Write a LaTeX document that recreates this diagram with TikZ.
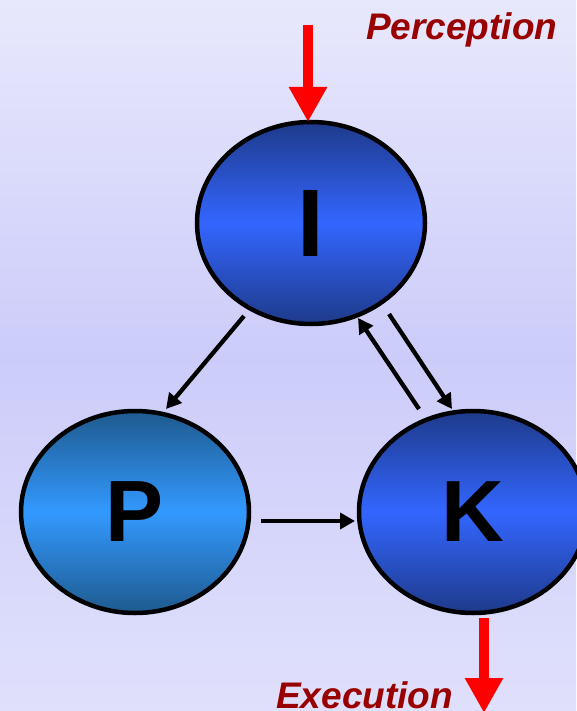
\documentclass[tikz,border=0pt]{standalone}
\usepackage{fontspec}
\setmainfont{Liberation Sans}
\usetikzlibrary{shapes.geometric,arrows.meta,calc}

\definecolor{bgtop}{HTML}{E8E8FC}
\definecolor{bgmid}{HTML}{CCCCFA}
\definecolor{bgbot}{HTML}{E0E0FC}
\definecolor{navy}{HTML}{1E3A8A}
\definecolor{royal}{HTML}{3366FF}
\definecolor{steel}{HTML}{1E5A8E}
\definecolor{azure}{HTML}{3399FF}
\definecolor{labelred}{HTML}{990000}
\definecolor{flowred}{HTML}{FF0000}

\tikzset{
  agent/.style={ellipse, draw=black, line width=4.5pt, inner sep=0pt, outer sep=0pt,
    minimum width=228pt, minimum height=202pt, font=\bfseries},
  blueagent/.style={agent, top color=navy, bottom color=navy, middle color=royal},
  tealagent/.style={agent, top color=steel, bottom color=steel, middle color=azure},
  link/.style={line width=4.3pt, -{Triangle[length=15pt,width=16pt]}},
  flow/.style={draw=flowred, line width=10pt, -{Triangle[length=35pt,width=36pt]}},
  flowlabel/.style={text=labelred, font=\bfseries\itshape\fontsize{37}{40}\selectfont,
    inner sep=0pt}
}

\begin{document}
\begin{tikzpicture}[x=1pt,y=-1pt]
  % canvas with soft vertical gradient
  \shade[top color=bgtop, bottom color=bgbot, middle color=bgmid]
    (0,0) rectangle (576,711);
  \useasboundingbox (0,0) rectangle (576,711);

  % the three agents
  \node[blueagent, font=\bfseries\fontsize{96}{100}\selectfont] (I) at (311,223) {I};
  \node[tealagent, font=\bfseries\fontsize{87}{90}\selectfont] (P) at (135,512) {P};
  \node[blueagent, font=\bfseries\fontsize{87}{90}\selectfont] (K) at (473,512) {K};

  % internal links
  \draw[link] ($(I.center)+(-67,93)$) -- ($(P.center)+(31,-103)$);
  \draw[link] ($(K.center)+(-54,-103)$) -- ($(I.center)+(47,95)$);
  \draw[link] ($(I.center)+(78,91)$) -- ($(K.center)+(-21,-103)$);
  \draw[link] ($(P.center)+(126,9)$) -- ($(K.center)+(-118,9)$);

  % input and output flows
  \coordinate (pin) at (308,25);
  \coordinate (pout) at (484,713);
  \draw[flow] (pin) -- (pin |- I.north);
  \draw[flow] ($(pout |- K.south)+(0,5)$) -- (pout);

  \node[flowlabel, anchor=base west] (perc) at (366,40) {Perception};
  \node[flowlabel, anchor=base west] (exec) at (276,708) {Execution};
\end{tikzpicture}
\end{document}
